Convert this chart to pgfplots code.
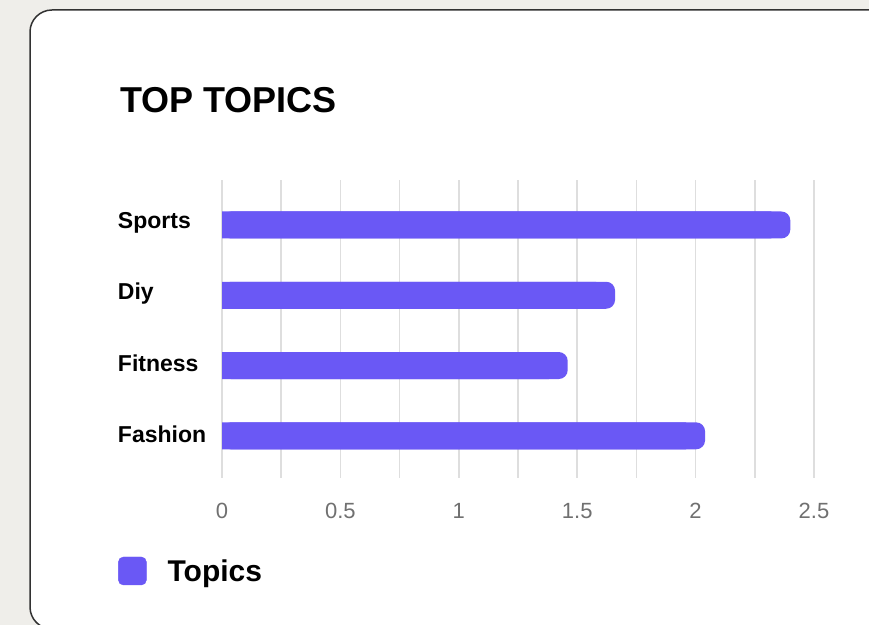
\documentclass[border=0pt]{standalone}
\usepackage{pgfplots}
\pgfplotsset{compat=1.18}
\usepackage{fontspec}
\setmainfont{Liberation Sans}
\definecolor{bg}{RGB}{239,238,234}
\definecolor{barc}{RGB}{106,88,245}
\definecolor{gridc}{RGB}{222,222,222}
\definecolor{tickc}{RGB}{112,112,112}
\definecolor{cardb}{RGB}{50,50,50}
\begin{document}
\begin{tikzpicture}[x=1bp,y=1bp]
\fill[bg] (0,0) rectangle (869,625);
\begin{scope}
\clip (0,0) rectangle (869,625);
\draw[cardb, line width=1.5bp, fill=white, rounded corners=22bp] (30,-4) rectangle (900,615);
\end{scope}
\node[anchor=base west, inner sep=0pt, font=\fontsize{36bp}{40bp}\selectfont\bfseries] at (120,512) {TOP TOPICS};
\begin{axis}[
  at={(222bp,147bp)}, anchor=south west,
  scale only axis, width=592bp, height=298bp,
  xmin=0, xmax=2.5, ymin=-0.6, ymax=3.64,
  axis line style={draw=none},
  tick style={draw=none},
  xtick={0,0.5,1,1.5,2,2.5},
  minor xtick={0.25,0.75,1.25,1.75,2.25},
  xmajorgrids, xminorgrids,
  major grid style={gridc, line width=1.5bp},
  minor grid style={gridc, line width=1.5bp},
  ytick={0,1,2,3}, yticklabels={Fashion,Fitness,Diy,Sports},
  /pgf/number format/assume math mode=true,
  xticklabel style={font=\fontsize{22bp}{26bp}\selectfont, text=tickc, yshift=-22bp},
  yticklabel style={font=\fontsize{23bp}{27bp}\selectfont\bfseries, anchor=west, inner sep=0pt, xshift=-100bp, yshift=2bp},
  xbar, bar width=27bp,
  legend image code/.code={\fill[barc, rounded corners=5bp] (0bp,-14bp) rectangle (28bp,14bp);\path (49bp,0bp);},
  legend style={at={(axis description cs:0,0)}, anchor=west, xshift=-104bp, yshift=-93bp,
    draw=none, fill=none, inner sep=0pt, nodes={inner sep=0pt},
    font=\fontsize{30bp}{34bp}\selectfont\bfseries},
  legend cell align=left,
]
\addplot[forget plot, fill=barc, draw=none, bar shift=0pt, rounded corners=9bp]
  coordinates {(2.40,3) (1.66,2) (1.46,1) (2.04,0)};
\addplot[forget plot, fill=barc, draw=none, bar shift=0pt]
  coordinates {(2.32,3) (1.58,2) (1.38,1) (1.96,0)};
\addlegendimage{fill=barc}
\addlegendentry{Topics}
\end{axis}
\pgfresetboundingbox
\useasboundingbox (0,0) rectangle (869,625);
\end{tikzpicture}
\end{document}
